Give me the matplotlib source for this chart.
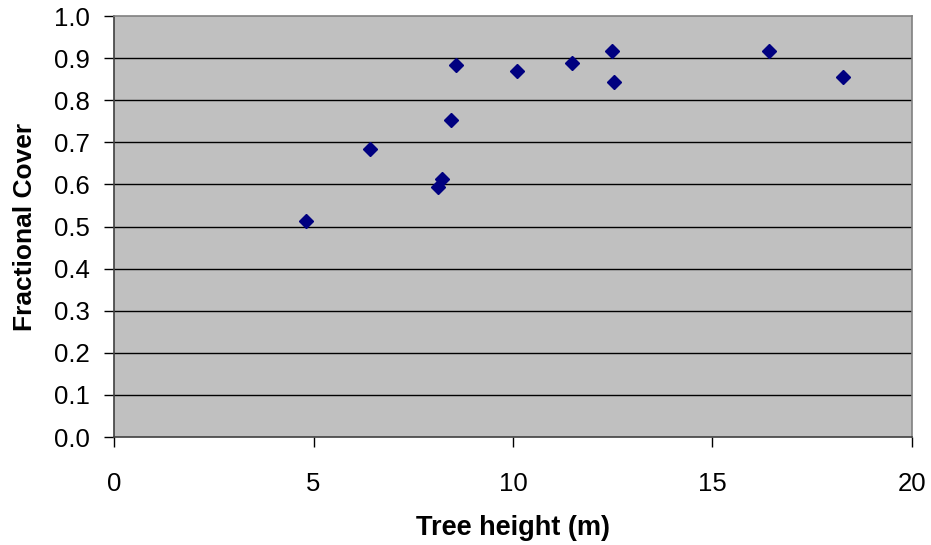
import matplotlib.pyplot as plt

plt.rcParams['font.family'] = ['Liberation Sans', 'DejaVu Sans']

tree_height = [4.81, 6.42, 8.11, 8.21, 8.44, 8.58, 10.09, 11.47, 12.48, 12.53, 16.42, 18.26]
frac_cover = [0.513, 0.684, 0.595, 0.614, 0.753, 0.884, 0.870, 0.888, 0.918, 0.844, 0.918, 0.856]

x_ticks = [0, 5, 10, 15, 20]
y_ticks = [0.0, 0.1, 0.2, 0.3, 0.4, 0.5, 0.6, 0.7, 0.8, 0.9, 1.0]

fig = plt.figure(figsize=(9.31, 5.45), dpi=100)
ax = fig.add_axes([0.1225, 0.198, 0.857, 0.7726])
ax.set_facecolor('#c0c0c0')

for yv in y_ticks[1:-1]:
    ax.axhline(yv, color='black', linewidth=1.0, zorder=1)

ax.plot(tree_height, frac_cover, linestyle='none', marker='D', markersize=7,
        color='#000080', zorder=3)

ax.set_xlim(0, 20)
ax.set_ylim(0, 1.0)
ax.set_xticks(x_ticks)
ax.set_yticks(y_ticks)
ax.set_xticklabels([str(v) for v in x_ticks])
ax.set_yticklabels([f'{v:.1f}' for v in y_ticks])
ax.tick_params(axis='both', direction='out', length=7, width=1, labelsize=18.5, color='black')
ax.tick_params(axis='x', pad=18)
ax.tick_params(axis='y', pad=10.5)

ax.spines['left'].set_color('#404040')
ax.spines['bottom'].set_color('#404040')
ax.spines['top'].set_color('#808080')
ax.spines['right'].set_color('#808080')
for s in ax.spines.values():
    s.set_linewidth(1.2)

ax.set_xlabel('Tree height (m)', fontsize=19.5, fontweight='bold', labelpad=14)
ax.set_ylabel('Fractional Cover', fontsize=19, fontweight='bold', labelpad=12)

fig.savefig('out.png', dpi=100)
